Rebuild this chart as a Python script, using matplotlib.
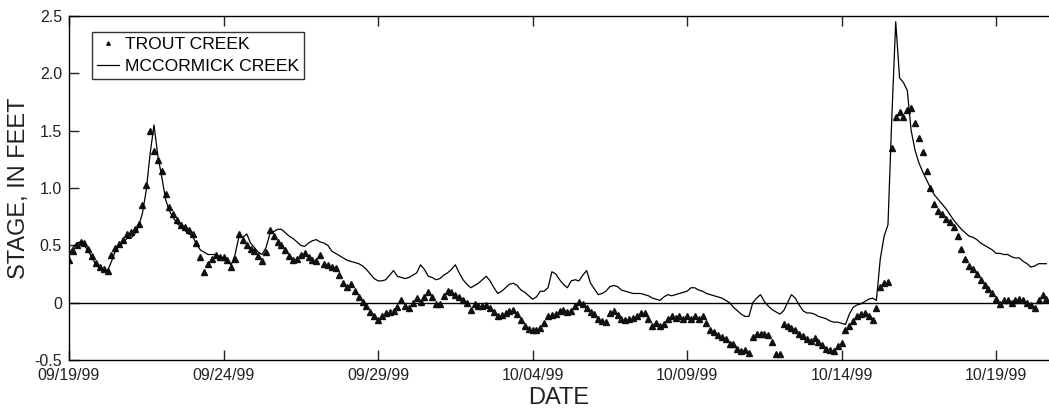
#Stage of Trout Creek and McCormick Creek, 09/19/99 to 10/20/99
import datetime as dt
import matplotlib.pyplot as plt

plt.rcParams['font.family'] = 'Liberation Sans'

#Stage, in feet, read every 3 hours starting 09/19/99 00:00 (one row per day)
trout = [
    0.37, 0.45, 0.50, 0.53, 0.52, 0.47, 0.41, 0.35,    # 09/19
    0.31, 0.29, 0.28, 0.42, 0.48, 0.51, 0.55, 0.60,    # 09/20
    0.62, 0.64, 0.69, 0.85, 1.03, 1.50, 1.32, 1.24,    # 09/21
    1.15, 0.95, 0.83, 0.77, 0.72, 0.68, 0.66, 0.63,    # 09/22
    0.60, 0.52, 0.40, 0.27, 0.34, 0.38, 0.42, 0.40,    # 09/23
    0.40, 0.37, 0.31, 0.38, 0.60, 0.55, 0.50, 0.47,    # 09/24
    0.45, 0.41, 0.36, 0.44, 0.63, 0.58, 0.53, 0.50,    # 09/25
    0.46, 0.41, 0.37, 0.38, 0.42, 0.43, 0.40, 0.37,    # 09/26
    0.36, 0.42, 0.34, 0.33, 0.31, 0.30, 0.24, 0.17,    # 09/27
    0.14, 0.16, 0.10, 0.05, 0.01, -0.03, -0.08, -0.12,  # 09/28
    -0.15, -0.12, -0.09, -0.08, -0.07, -0.04, 0.02, -0.03,  # 09/29
    -0.05, 0.00, 0.04, 0.01, 0.05, 0.09, 0.05, -0.01,  # 09/30
    -0.01, 0.06, 0.10, 0.09, 0.07, 0.05, 0.02, 0.00,   # 10/01
    -0.06, -0.01, -0.03, -0.03, -0.02, -0.05, -0.08, -0.12,  # 10/02
    -0.11, -0.09, -0.07, -0.06, -0.10, -0.15, -0.20, -0.23,  # 10/03
    -0.24, -0.24, -0.22, -0.18, -0.12, -0.11, -0.10, -0.07,  # 10/04
    -0.06, -0.08, -0.07, -0.03, 0.01, -0.01, -0.05, -0.08,   # 10/05
    -0.10, -0.14, -0.16, -0.17, -0.09, -0.07, -0.11, -0.14,  # 10/06
    -0.15, -0.14, -0.13, -0.12, -0.09, -0.09, -0.14, -0.20,  # 10/07
    -0.18, -0.20, -0.19, -0.14, -0.12, -0.13, -0.12, -0.14,  # 10/08
    -0.12, -0.14, -0.12, -0.14, -0.12, -0.18, -0.24, -0.26,  # 10/09
    -0.28, -0.30, -0.32, -0.36, -0.36, -0.40, -0.42, -0.41,  # 10/10
    -0.44, -0.30, -0.27, -0.27, -0.27, -0.28, -0.34, -0.45,  # 10/11
    -0.45, -0.19, -0.20, -0.22, -0.24, -0.27, -0.29, -0.32,  # 10/12
    -0.33, -0.31, -0.34, -0.37, -0.40, -0.41, -0.42, -0.38,  # 10/13
    -0.35, -0.24, -0.20, -0.16, -0.12, -0.10, -0.09, -0.12,  # 10/14
    -0.15, -0.05, 0.14, 0.17, 0.18, 1.35, 1.62, 1.66,  # 10/15
    1.62, 1.68, 1.70, 1.57, 1.44, 1.31, 1.15, 1.00,    # 10/16
    0.86, 0.80, 0.77, 0.73, 0.70, 0.66, 0.58, 0.47,    # 10/17
    0.38, 0.32, 0.29, 0.25, 0.20, 0.15, 0.12, 0.08,    # 10/18
    0.03, -0.01, 0.02, 0.02, 0.00, 0.02, 0.03, 0.02,   # 10/19
    0.00, -0.02, -0.05, 0.02, 0.07, 0.03,              # 10/20
]

mccormick = [
    0.42, 0.48, 0.52, 0.53, 0.50, 0.45, 0.39, 0.33,    # 09/19
    0.30, 0.28, 0.28, 0.36, 0.45, 0.50, 0.52, 0.56,    # 09/20
    0.56, 0.60, 0.66, 0.78, 0.98, 1.30, 1.55, 1.28,    # 09/21
    1.10, 0.90, 0.80, 0.74, 0.69, 0.66, 0.63, 0.60,    # 09/22
    0.58, 0.51, 0.46, 0.44, 0.42, 0.42, 0.42, 0.40,    # 09/23
    0.39, 0.36, 0.33, 0.42, 0.58, 0.57, 0.60, 0.52,    # 09/24
    0.48, 0.44, 0.42, 0.48, 0.60, 0.62, 0.64, 0.64,    # 09/25
    0.61, 0.58, 0.56, 0.53, 0.50, 0.49, 0.52, 0.54,    # 09/26
    0.55, 0.53, 0.52, 0.50, 0.45, 0.43, 0.41, 0.39,    # 09/27
    0.37, 0.36, 0.35, 0.34, 0.32, 0.29, 0.25, 0.21,    # 09/28
    0.19, 0.19, 0.20, 0.24, 0.28, 0.23, 0.22, 0.21,    # 09/29
    0.22, 0.24, 0.26, 0.33, 0.29, 0.23, 0.22, 0.20,    # 09/30
    0.21, 0.24, 0.26, 0.29, 0.33, 0.26, 0.20, 0.16,    # 10/01
    0.13, 0.15, 0.17, 0.20, 0.23, 0.19, 0.13, 0.08,    # 10/02
    0.10, 0.13, 0.16, 0.17, 0.15, 0.11, 0.09, 0.06,    # 10/03
    0.03, 0.05, 0.10, 0.10, 0.13, 0.27, 0.25, 0.20,    # 10/04
    0.16, 0.13, 0.19, 0.20, 0.19, 0.24, 0.28, 0.17,    # 10/05
    0.12, 0.07, 0.08, 0.10, 0.14, 0.15, 0.14, 0.11,    # 10/06
    0.10, 0.09, 0.08, 0.08, 0.08, 0.07, 0.06, 0.04,    # 10/07
    0.03, 0.02, 0.05, 0.07, 0.06, 0.07, 0.08, 0.09,    # 10/08
    0.10, 0.13, 0.13, 0.11, 0.10, 0.08, 0.07, 0.06,    # 10/09
    0.05, 0.04, 0.02, 0.00, -0.04, -0.07, -0.10, -0.12,  # 10/10
    -0.12, 0.00, 0.04, 0.07, 0.01, -0.03, -0.06, -0.08,  # 10/11
    -0.10, -0.07, 0.00, 0.07, 0.04, -0.02, -0.07, -0.09,  # 10/12
    -0.09, -0.10, -0.12, -0.13, -0.14, -0.16, -0.17, -0.17,  # 10/13
    -0.18, -0.19, -0.10, -0.04, -0.02, -0.01, 0.01, 0.03,  # 10/14
    0.04, 0.02, 0.38, 0.58, 0.68, 1.62, 2.45, 1.96,    # 10/15
    1.92, 1.85, 1.50, 1.33, 1.22, 1.14, 1.07, 1.00,    # 10/16
    0.94, 0.90, 0.86, 0.82, 0.77, 0.72, 0.68, 0.64,    # 10/17
    0.61, 0.58, 0.57, 0.55, 0.52, 0.50, 0.48, 0.46,    # 10/18
    0.43, 0.43, 0.42, 0.42, 0.40, 0.39, 0.39, 0.36,    # 10/19
    0.34, 0.31, 0.32, 0.34, 0.34, 0.34,                # 10/20
]

date_labels = ['09/19/99', '09/24/99', '09/29/99', '10/04/99',
               '10/09/99', '10/14/99', '10/19/99']
stage_ticks = [-0.5, 0, 0.5, 1.0, 1.5, 2.0, 2.5]
stage_labels = ['-0.5', '0', '0.5', '1.0', '1.5', '2.0', '2.5']

#Sample times
start = dt.datetime(1999, 9, 19)
times = [start + dt.timedelta(hours=3 * i) for i in range(len(trout))]
tick_dates = [dt.datetime.strptime(s, '%m/%d/%y') for s in date_labels]

fig = plt.figure(figsize=(10.49, 4.12), dpi=100)
ax = fig.add_axes([69 / 1049, 1 - 360 / 412, 980 / 1049, 344 / 412])

#Drawing the series
ax.plot(times, trout, linestyle='none', marker='^', markersize=4.6,
        color='#111111', label='TROUT CREEK')
ax.plot(times, mccormick, color='black', linewidth=0.9,
        label='MCCORMICK CREEK')
ax.axhline(0, color='black', linewidth=1)

ax.set_xlim(start, start + dt.timedelta(days=31.71))
ax.set_ylim(-0.5, 2.5)
ax.set_xticks(tick_dates)
ax.set_xticklabels(date_labels)
ax.set_yticks(stage_ticks)
ax.set_yticklabels(stage_labels)
ax.tick_params(direction='in', length=7, width=1, top=True, right=False,
               labelsize=11.5, colors='#222222')
ax.tick_params(axis='x', pad=6)
ax.tick_params(axis='y', pad=5)
ax.spines['right'].set_visible(False)
for s in ['left', 'top', 'bottom']:
    ax.spines[s].set_linewidth(1)

ax.set_xlabel('DATE', fontsize=17, labelpad=3, color='#222222')
ax.set_ylabel('STAGE, IN FEET', fontsize=17, labelpad=3, color='#222222')

leg = ax.legend(loc='upper left', bbox_to_anchor=(0.0232, 0.954),
                borderaxespad=0, fontsize=12.6, fancybox=False,
                edgecolor='black', handlelength=1.25, handletextpad=0.35,
                borderpad=0.3, labelspacing=0.35, markerscale=0.55)
leg.get_frame().set_linewidth(1)

#Saving the chart
plt.savefig('out.png', dpi=100)
